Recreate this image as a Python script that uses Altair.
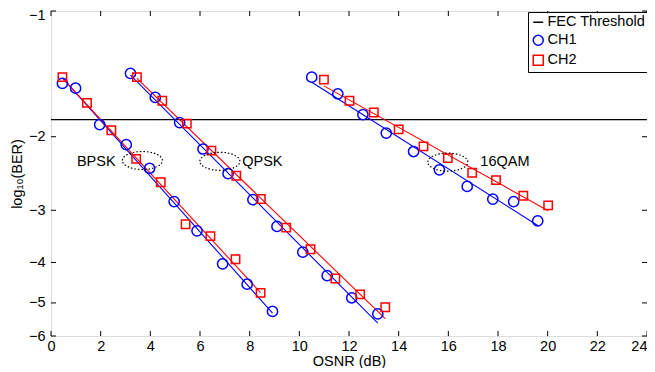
import altair as alt
import pandas as pd

# ---- data (OSNR in dB, log10(BER)) ----
BPSK_CH1_OSNR = [0.46, 0.99, 1.96, 3.03, 3.97, 4.96, 5.88, 6.91, 7.90, 8.92]
BPSK_CH1_LOGBER = [-1.49, -1.53, -1.87, -2.09, -2.38, -2.86, -3.36, -4.03, -4.51, -5.24]
BPSK_CH2_OSNR = [0.46, 1.45, 2.43, 3.43, 4.42, 5.42, 6.42, 7.43, 8.44]
BPSK_CH2_LOGBER = [-1.44, -1.66, -1.93, -2.26, -2.57, -3.24, -3.46, -3.93, -4.73]
QPSK_CH1_OSNR = [3.20, 4.20, 5.18, 6.12, 7.13, 8.13, 9.10, 10.14, 11.12, 12.11, 13.16]
QPSK_CH1_LOGBER = [-1.41, -1.61, -1.85, -2.14, -2.45, -2.83, -3.28, -3.78, -4.30, -4.86, -5.31]
QPSK_CH2_OSNR = [3.46, 4.48, 5.47, 6.46, 7.46, 8.45, 9.47, 10.45, 11.45, 12.45, 13.46]
QPSK_CH2_LOGBER = [-1.44, -1.64, -1.86, -2.16, -2.48, -2.82, -3.30, -3.72, -4.37, -4.77, -5.12]
QAM16_CH1_OSNR = [10.50, 11.55, 12.56, 13.50, 14.60, 15.64, 16.76, 17.79, 18.63, 19.60]
QAM16_CH1_LOGBER = [-1.44, -1.58, -1.77, -1.96, -2.17, -2.40, -2.63, -2.82, -2.86, -3.18]
QAM16_CH2_OSNR = [10.99, 12.02, 13.00, 14.00, 15.00, 15.98, 16.96, 17.92, 19.02, 20.02]
QAM16_CH2_LOGBER = [-1.46, -1.64, -1.75, -1.92, -2.11, -2.25, -2.44, -2.54, -2.77, -2.92]

FEC_LOGBER = -1.82

SERIES = ["FEC Threshold", "CH1", "CH2"]
COLORS = ["black", "#0000FF", "#FF0000"]
SHAPES = ["stroke", "circle", "square"]

LABELS = ["BPSK", "QPSK", "16QAM"]
LABEL_OSNR = [2.60, 7.70, 17.29]
LABEL_LOGBER = [-2.30, -2.30, -2.30]
LABEL_ALIGN = ["right", "left", "left"]
ELLIPSE_OSNR = [3.68, 6.80, 15.98]
ELLIPSE_LOGBER = [-2.28, -2.29, -2.30]

XTICKS = list(range(0, 25, 2))
YTICKS = [1, 2, 3, 4, 5, 6]

rows = []
for mod, ch, xs_, ys_ in [
    ("BPSK", "CH1", BPSK_CH1_OSNR, BPSK_CH1_LOGBER),
    ("BPSK", "CH2", BPSK_CH2_OSNR, BPSK_CH2_LOGBER),
    ("QPSK", "CH1", QPSK_CH1_OSNR, QPSK_CH1_LOGBER),
    ("QPSK", "CH2", QPSK_CH2_OSNR, QPSK_CH2_LOGBER),
    ("16QAM", "CH1", QAM16_CH1_OSNR, QAM16_CH1_LOGBER),
    ("16QAM", "CH2", QAM16_CH2_OSNR, QAM16_CH2_LOGBER),
]:
    for a, b in zip(xs_, ys_):
        rows.append({"mod": mod, "ch": ch, "x": a, "logber": b})
df = pd.DataFrame(rows)

fec_df = pd.DataFrame({"series": ["FEC Threshold"], "logber": [FEC_LOGBER]})
lab_df = pd.DataFrame({"label": LABELS, "x": LABEL_OSNR, "logber": LABEL_LOGBER, "align": LABEL_ALIGN})
ell_df = pd.DataFrame({"x": ELLIPSE_OSNR, "logber": ELLIPSE_LOGBER})
xt_df = pd.DataFrame({"t": XTICKS})
yt_df = pd.DataFrame({"t": YTICKS})

FONT = "Liberation Sans"
FS = 14.5
W, H = 596, 325

xs = alt.Scale(domain=[0, 24], nice=False, zero=False)
ys = alt.Scale(type="log", domain=[1, 6], reverse=True, nice=False)

xaxis = alt.Axis(values=XTICKS, title="OSNR (dB)", grid=False, ticks=False, domain=False,
                 labelFlush=False, labelFont=FONT, labelFontSize=FS, labelColor="black",
                 labelPadding=3, titleFont=FONT, titleFontSize=FS, titleFontWeight="normal",
                 titleColor="black", titlePadding=2,
                 labelAlign={"condition": {"test": "datum.value == 24", "value": "right"}, "value": "center"})
yaxis = alt.Axis(values=YTICKS, labelExpr="'\u2212' + datum.value", title="log\u2081\u2080(BER)",
                 grid=False, ticks=False, domain=False, labelFont=FONT, labelFontSize=FS,
                 labelColor="black", labelPadding=6, titleFont=FONT, titleFontSize=FS,
                 titleFontWeight="normal", titleColor="black", titlePadding=4,
                 labelOffset={"condition": {"test": "datum.value == 1", "value": 4}, "value": 0})


def X(field):
    return alt.X(field, type="quantitative", scale=xs, axis=xaxis)


def Y(field):
    return alt.Y(field, type="quantitative", scale=ys, axis=yaxis)


legend = alt.Legend(orient="none", legendX=477, legendY=1, title=None, strokeColor="black",
                    fillColor="white", padding=3, rowPadding=3, labelFont=FONT, labelFontSize=FS,
                    labelColor="black", symbolSize=100, symbolStrokeWidth=1.5, labelOffset=2)
color_enc = alt.Color("ch:N", scale=alt.Scale(domain=SERIES, range=COLORS), legend=legend)
shape_enc = alt.Shape("ch:N", scale=alt.Scale(domain=SERIES, range=SHAPES), legend=legend)

base = alt.Chart(df).transform_calculate(v="-datum.logber")

fec = alt.Chart(fec_df).transform_calculate(v="-datum.logber").mark_rule(
    color="black", strokeWidth=1.3).encode(y=Y("v"))


def fit_line(ch, col):
    return base.transform_filter(f"datum.ch == '{ch}'").transform_calculate(
        lv="log(datum.v) / LN10").transform_regression(
        "x", "lv", groupby=["mod"]).transform_calculate(v="pow(10, datum.lv)").mark_line(
        color=col, strokeWidth=1.1).encode(x=X("x"), y=Y("v"), detail="mod:N")


line1 = fit_line("CH1", "#0000FF")
line2 = fit_line("CH2", "#FF0000")

circles = base.transform_filter("datum.ch == 'CH1'").mark_point(
    filled=False, size=105, strokeWidth=1.5, opacity=1).encode(
    x=X("x"), y=Y("v"), color=color_enc, shape=shape_enc)
squares = base.transform_filter("datum.ch == 'CH2'").mark_point(
    filled=False, size=70, strokeWidth=1.5, opacity=1).encode(
    x=X("x"), y=Y("v"), color=color_enc, shape=shape_enc)

ELL = "M -1 0 A 1 0.45 0 1 1 1 0 A 1 0.45 0 1 1 -1 0 Z"
ellipses = alt.Chart(ell_df).transform_calculate(v="-datum.logber").mark_point(
    shape=ELL, size=1600, filled=False, color="black", strokeWidth=1.2,
    strokeDash=[1.5, 2], opacity=1).encode(x=X("x"), y=Y("v"))

texts = []
for al in ["left", "right"]:
    texts.append(alt.Chart(lab_df).transform_filter(f"datum.align == '{al}'").transform_calculate(
        v="-datum.logber").mark_text(align=al, baseline="middle", font=FONT, fontSize=FS,
                                      color="black").encode(x=X("x"), y=Y("v"), text="label:N"))

tb = alt.Chart(xt_df).mark_rule(color="black", strokeWidth=1).encode(
    x=X("t"), y=alt.value(H), y2=alt.value(H - 5))
tt = alt.Chart(xt_df).mark_rule(color="black", strokeWidth=1).encode(
    x=X("t"), y=alt.value(0), y2=alt.value(5))
tl = alt.Chart(yt_df).mark_rule(color="black", strokeWidth=1).encode(
    y=Y("t"), x=alt.value(0), x2=alt.value(5))
tr = alt.Chart(yt_df).mark_rule(color="black", strokeWidth=1).encode(
    y=Y("t"), x=alt.value(W), x2=alt.value(W - 5))

chart = alt.layer(fec, line1, line2, circles, squares, ellipses, *texts, tb, tt, tl, tr).properties(
    width=W, height=H,
    autosize=alt.AutoSizeParams(type="none"),
    padding={"left": 43, "top": 3, "right": 0, "bottom": 32},
).configure_view(stroke="black", strokeWidth=1.2).configure(background="white")

chart.save("out.html", embed_options={"renderer": "svg", "actions": False})
